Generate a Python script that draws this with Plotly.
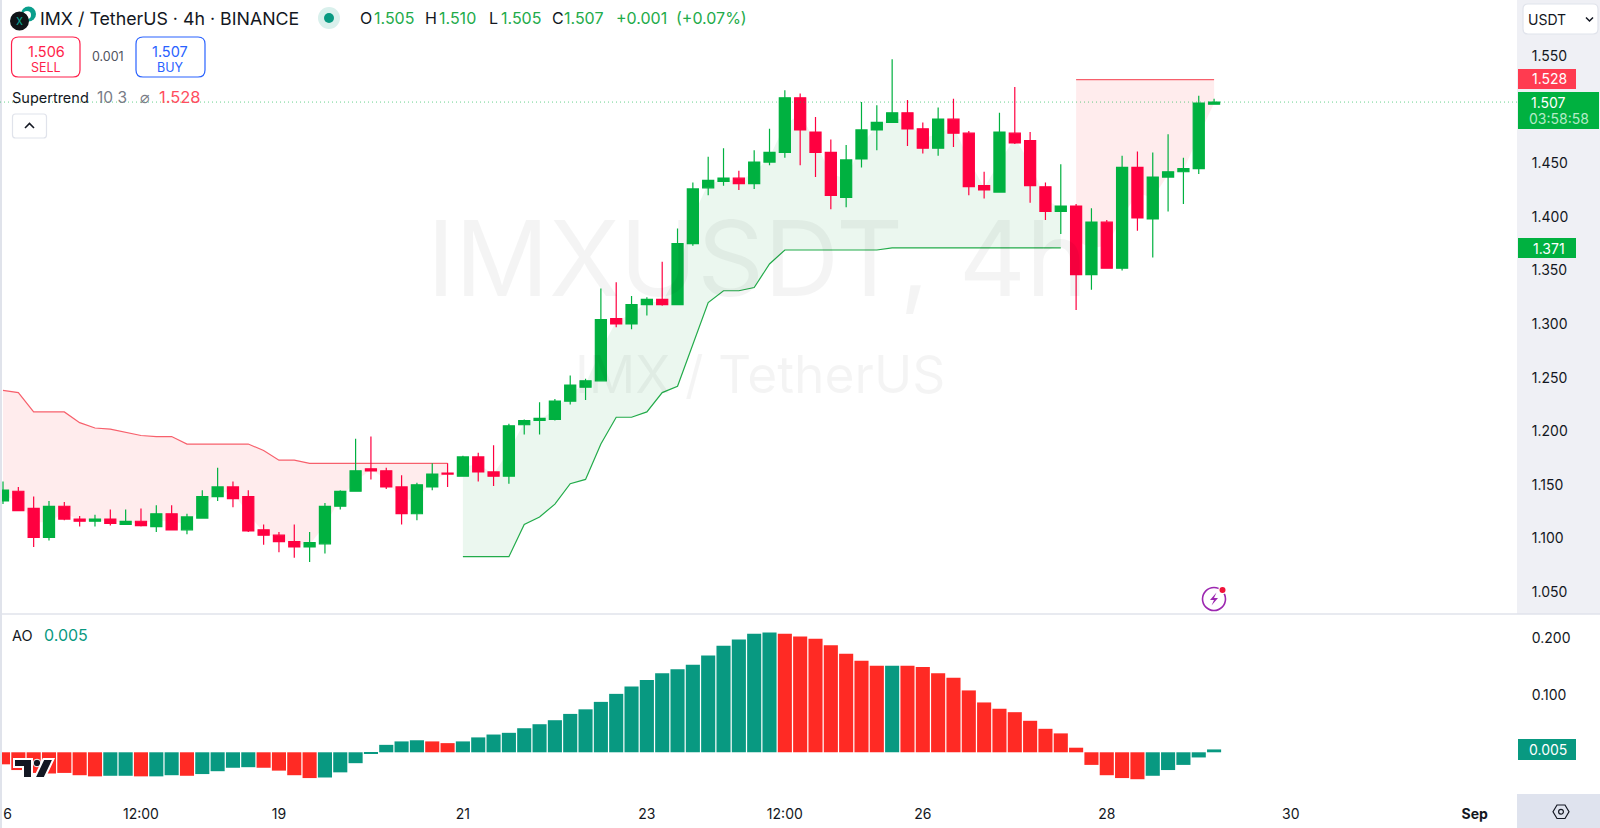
# IMX / TetherUS 4h chart with Supertrend and Awesome Oscillator

import plotly.graph_objects as go

candle_open = [1.135, 1.144, 1.128, 1.101, 1.130, 1.118, 1.116, 1.118, 1.113, 1.116,
               1.111, 1.123, 1.108, 1.119, 1.139, 1.148, 1.139, 1.108, 1.103, 1.097,
               1.092, 1.095, 1.130, 1.144, 1.165, 1.163, 1.148, 1.123, 1.148, 1.161,
               1.158, 1.176, 1.162, 1.158, 1.206, 1.210, 1.211, 1.228, 1.241, 1.247,
               1.305, 1.300, 1.318, 1.323, 1.318, 1.375, 1.427, 1.433, 1.436, 1.431,
               1.451, 1.460, 1.511, 1.479, 1.460, 1.418, 1.454, 1.481, 1.488, 1.497,
               1.482, 1.464, 1.491, 1.478, 1.429, 1.423, 1.478, 1.471, 1.428, 1.405,
               1.410, 1.346, 1.395, 1.352, 1.446, 1.398, 1.437, 1.442, 1.445, 1.505]
candle_high = [1.153, 1.148, 1.139, 1.135, 1.134, 1.121, 1.122, 1.127, 1.127, 1.128,
               1.131, 1.131, 1.123, 1.145, 1.166, 1.153, 1.145, 1.113, 1.106, 1.113,
               1.106, 1.133, 1.145, 1.193, 1.195, 1.166, 1.159, 1.152, 1.170, 1.170,
               1.177, 1.180, 1.187, 1.207, 1.211, 1.227, 1.230, 1.252, 1.249, 1.333,
               1.339, 1.326, 1.325, 1.358, 1.389, 1.432, 1.456, 1.464, 1.443, 1.462,
               1.482, 1.518, 1.515, 1.493, 1.472, 1.467, 1.507, 1.504, 1.547, 1.509,
               1.488, 1.502, 1.510, 1.480, 1.442, 1.497, 1.521, 1.479, 1.432, 1.449,
               1.412, 1.408, 1.397, 1.457, 1.461, 1.460, 1.477, 1.455, 1.513, 1.510]
candle_low = [1.132, 1.126, 1.092, 1.098, 1.117, 1.111, 1.111, 1.112, 1.113, 1.111,
              1.106, 1.108, 1.104, 1.119, 1.135, 1.129, 1.106, 1.094, 1.087, 1.082,
              1.078, 1.086, 1.127, 1.144, 1.155, 1.146, 1.113, 1.117, 1.145, 1.148,
              1.158, 1.153, 1.149, 1.151, 1.197, 1.197, 1.210, 1.225, 1.229, 1.247,
              1.297, 1.295, 1.308, 1.317, 1.318, 1.373, 1.420, 1.429, 1.425, 1.426,
              1.448, 1.455, 1.448, 1.437, 1.407, 1.409, 1.446, 1.462, 1.488, 1.466,
              1.459, 1.457, 1.465, 1.420, 1.417, 1.423, 1.468, 1.413, 1.397, 1.384,
              1.313, 1.332, 1.352, 1.350, 1.387, 1.362, 1.405, 1.412, 1.440, 1.505]
candle_close = [1.145, 1.126, 1.101, 1.130, 1.118, 1.116, 1.118, 1.114, 1.116, 1.112,
                1.123, 1.108, 1.120, 1.139, 1.148, 1.137, 1.107, 1.103, 1.097, 1.092,
                1.096, 1.130, 1.144, 1.163, 1.163, 1.148, 1.123, 1.150, 1.160, 1.160,
                1.176, 1.162, 1.158, 1.205, 1.210, 1.212, 1.228, 1.243, 1.247, 1.304,
                1.300, 1.318, 1.323, 1.318, 1.375, 1.426, 1.434, 1.436, 1.431, 1.451,
                1.460, 1.511, 1.481, 1.460, 1.420, 1.453, 1.481, 1.488, 1.497, 1.482,
                1.464, 1.491, 1.478, 1.428, 1.425, 1.479, 1.469, 1.429, 1.405, 1.410,
                1.346, 1.395, 1.352, 1.446, 1.399, 1.437, 1.442, 1.445, 1.506, 1.507]

# Supertrend stop line, split by trend direction
trend_red_start = [1.238, 1.236, 1.218, 1.218, 1.218, 1.208, 1.203, 1.202, 1.199, 1.196,
                   1.195, 1.195, 1.188, 1.188, 1.188, 1.188, 1.188, 1.182, 1.173, 1.173,
                   1.170, 1.170, 1.170, 1.170, 1.170, 1.170, 1.170, 1.170, 1.170, 1.170]
trend_green = [1.083, 1.083, 1.083, 1.083, 1.113, 1.120, 1.132, 1.151, 1.155, 1.188,
               1.213, 1.213, 1.218, 1.236, 1.242, 1.282, 1.320, 1.331, 1.331, 1.334,
               1.356, 1.369, 1.369, 1.369, 1.369, 1.369, 1.369, 1.369, 1.371, 1.371,
               1.371, 1.371, 1.371, 1.371, 1.371, 1.371, 1.371, 1.371, 1.371, 1.371]
trend_red_end = [1.528, 1.528, 1.528, 1.528, 1.528, 1.528, 1.528, 1.528, 1.528, 1.528]

ao_values = [-0.021, -0.031, -0.036, -0.037, -0.036, -0.040, -0.042, -0.041, -0.041, -0.042,
             -0.042, -0.040, -0.041, -0.038, -0.033, -0.027, -0.026, -0.027, -0.032, -0.040,
             -0.045, -0.044, -0.035, -0.019, -0.002, 0.013, 0.019, 0.021, 0.019, 0.016,
             0.019, 0.026, 0.031, 0.034, 0.042, 0.049, 0.056, 0.067, 0.075, 0.088,
             0.102, 0.115, 0.126, 0.138, 0.145, 0.153, 0.169, 0.186, 0.197, 0.207,
             0.209, 0.207, 0.202, 0.198, 0.187, 0.172, 0.160, 0.151, 0.151, 0.151,
             0.149, 0.138, 0.130, 0.108, 0.087, 0.076, 0.070, 0.055, 0.041, 0.033,
             0.008, -0.022, -0.040, -0.045, -0.047, -0.041, -0.031, -0.022, -0.009, 0.005]
ao_direction = list("DDDDDDDUUDUUDUUUUDDDDUUUUUUUDDUUUUUUUUUUUUUUUUUUUUUDDDDDDDUDDDDDDDDDDDDDDDDUUUUU")

time_tick_vals = [0.3, 9, 18, 30, 42, 51, 60, 72, 84, 96]
time_tick_labels = ["6", "12:00", "19", "21", "23", "12:00", "26", "28", "30", "<b>Sep</b>"]
# 1.500 and 0.000 sit behind the current value labels in the original, so they are left out
price_ticks = [1.05, 1.10, 1.15, 1.20, 1.25, 1.30, 1.35, 1.40, 1.45, 1.55]
ao_ticks = [0.1, 0.2]

FONT = "Inter"
W, H = 1600, 828
GREEN = "#00B140"
RED = "#FF0040"
TEAL = "#089981"
AO_RED = "#FF2A24"
DARK = "#131722"
GREY = "#787B86"
BORDER = "#E0E3EB"
TEXT_GREEN = "#22AB4A"

candle_x = list(range(len(candle_open)))
body_mid = [(o + c) / 2 for o, c in zip(candle_open, candle_close)]


def fx(x):
    return x / W


def fy(y):
    return 1 - y / H


def rect(x0, y0, x1, y1, fill, line=None, layer="above"):
    return dict(type="rect", xref="paper", yref="paper", x0=fx(x0), x1=fx(x1), y0=fy(y0), y1=fy(y1),
                fillcolor=fill, line=dict(width=0 if line is None else 1.2, color=line or fill), layer=layer)


def circle(cx, cy, r, fill="rgba(0,0,0,0)", line=None, width=1.5):
    return dict(type="circle", xref="paper", yref="paper", x0=fx(cx - r), x1=fx(cx + r), y0=fy(cy - r), y1=fy(cy + r),
                fillcolor=fill, line=dict(width=0 if line is None else width, color=line or fill), layer="above")


def path(points, fill="rgba(0,0,0,0)", line=None, width=1.5, close=True):
    d = "M" + " L".join(f"{fx(x):.5f},{fy(y):.5f}" for x, y in points) + (" Z" if close else "")
    return dict(type="path", xref="paper", yref="paper", path=d, fillcolor=fill,
                line=dict(width=0 if line is None else width, color=line or fill), layer="above")


def round_rect(x0, y0, x1, y1, r, fill, line):
    d = (f"M{fx(x0 + r):.5f},{fy(y0):.5f} L{fx(x1 - r):.5f},{fy(y0):.5f} "
         f"Q{fx(x1):.5f},{fy(y0):.5f} {fx(x1):.5f},{fy(y0 + r):.5f} L{fx(x1):.5f},{fy(y1 - r):.5f} "
         f"Q{fx(x1):.5f},{fy(y1):.5f} {fx(x1 - r):.5f},{fy(y1):.5f} L{fx(x0 + r):.5f},{fy(y1):.5f} "
         f"Q{fx(x0):.5f},{fy(y1):.5f} {fx(x0):.5f},{fy(y1 - r):.5f} L{fx(x0):.5f},{fy(y0 + r):.5f} "
         f"Q{fx(x0):.5f},{fy(y0):.5f} {fx(x0 + r):.5f},{fy(y0):.5f} Z")
    return dict(type="path", xref="paper", yref="paper", path=d, fillcolor=fill,
                line=dict(width=1.2, color=line), layer="above")


def label(text, x, y, color=DARK, size=14, anchor="left"):
    return dict(text=text, xref="paper", yref="paper", x=fx(x), y=fy(y), xanchor=anchor, yanchor="middle",
                showarrow=False, font=dict(family=FONT, size=size, color=color))


fig = go.Figure()


def add_trend(start, values, color, fill):
    xs = candle_x[start:start + len(values)]
    fig.add_trace(go.Scatter(x=xs, y=body_mid[start:start + len(values)], mode="lines",
                             line=dict(width=0), xaxis="x", yaxis="y"))
    fig.add_trace(go.Scatter(x=xs, y=values, mode="lines", fill="tonexty", fillcolor=fill,
                             line=dict(width=1.2, color=color), xaxis="x", yaxis="y"))


add_trend(0, trend_red_start, "#F7606C", "rgba(255,70,80,0.10)")
add_trend(30, trend_green, "#22AB4A", "rgba(34,171,74,0.09)")
add_trend(70, trend_red_end, "#F7606C", "rgba(255,70,80,0.10)")

fig.add_trace(go.Candlestick(
    x=candle_x, open=candle_open, high=candle_high, low=candle_low, close=candle_close,
    increasing=dict(line=dict(color=GREEN, width=1.2), fillcolor=GREEN),
    decreasing=dict(line=dict(color=RED, width=1.2), fillcolor=RED),
    xaxis="x3", yaxis="y3"))

fig.add_trace(go.Bar(
    x=candle_x, y=ao_values, width=0.92,
    marker=dict(color=[TEAL if d == "U" else AO_RED for d in ao_direction], line=dict(width=0)),
    xaxis="x2", yaxis="y2"))

x_range = [-0.196, 98.76]
x_domain = [0, 1517 / W]
price_range = [1.0295, 1.6022]
tick_font = dict(family=FONT, size=14, color=DARK)

shapes = [
    # axis panels
    rect(1517, 0, 1600, 614, "#EFF0F5", layer="below"),
    rect(1517, 794, 1600, 828, "#DFE3EE", layer="below"),
    rect(0, 0, 2, 828, BORDER),
    rect(0, 613.2, 1600, 614.8, BORDER),
    # last price line
    dict(type="line", xref="paper", yref="y", x0=0, x1=1517 / W, y0=candle_close[-1], y1=candle_close[-1],
         line=dict(color="rgba(0,177,64,0.6)", width=1, dash="1px,3px"), layer="above"),
    # price labels
    round_rect(1523, 4, 1598, 34, 5, "#FFFFFF", BORDER),
    rect(1518, 69, 1576, 89, "#FF3B50"),
    rect(1518, 92, 1599, 129, GREEN),
    rect(1518, 238, 1576, 258, GREEN),
    rect(1518, 739, 1576, 760, TEAL),
    path([(1586, 17.5), (1589.5, 21), (1593, 17.5)], line=DARK, width=1.5, close=False),
    # header logo
    circle(28.5, 14, 7.5, fill="#0A9E8C"),
    circle(27, 15, 4, fill="#FFFFFF"),
    circle(19.5, 21, 9.5, fill="#101418"),
    # status dot
    circle(329, 18, 11, fill="#D9F0EC"),
    circle(329, 18, 5, fill=TEAL),
    # sell and buy boxes
    round_rect(11.5, 37, 80, 77, 7, "#FFFFFF", "#FF1F4B"),
    round_rect(136, 37, 205, 77, 7, "#FFFFFF", "#2962FF"),
    # collapse button
    round_rect(12.5, 114, 46.5, 138, 3, "#FFFFFF", BORDER),
    path([(25, 128), (29.5, 123.5), (34, 128)], line=DARK, width=1.6, close=False),
    # lightning icon
    circle(1214, 599, 11.5, line="#9C27B0", width=1.6),
    path([(1216.5, 592.5), (1210, 600), (1214, 600), (1211.5, 605.5), (1218, 598), (1214, 598)], fill="#9C27B0"),
    circle(1222.5, 590, 4.2, fill="#FFFFFF"),
    circle(1222.5, 590, 3, fill="#F0133A"),
    # settings hexagon
    path([(1553, 811.7), (1557, 805), (1565, 805), (1569, 811.7), (1565, 818.5), (1557, 818.5)], line=DARK, width=1.2),
    circle(1561, 811.7, 2.4, line=DARK, width=1.2),
    # tradingview mark
    path([(14, 759), (32, 759), (32, 778), (23, 778), (23, 767), (14, 767)], fill=DARK, line="#FFFFFF", width=2),
    circle(37, 763, 3.8, fill=DARK, line="#FFFFFF", width=1),
    path([(43.5, 759), (53.5, 759), (44.5, 778), (34.5, 778)], fill=DARK, line="#FFFFFF", width=2),
]

annotations = [
    label("IMXUSDT, 4h", 757, 258, "rgba(0,0,0,0.045)", 104, "center"),
    label("IMX / TetherUS", 760, 374, "rgba(0,0,0,0.045)", 51.5, "center"),
    label("IMX / TetherUS · 4h · BINANCE", 37.5, 18.5, DARK, 17.8),
    label("x", 19.5, 20, "#0A9E8C", 13, "center"),
    label("1.506", 46, 51, "#FF1F4B", 14.5, "center"),
    label("SELL", 46, 67, "#FF1F4B", 12.5, "center"),
    label("0.001", 107.5, 57, "#50535E", 12.5, "center"),
    label("1.507", 170, 51, "#2962FF", 14.5, "center"),
    label("BUY", 170, 67, "#2962FF", 12.5, "center"),
    label("Supertrend", 10, 97.5, DARK, 14.5),
    label("10 3", 95, 97.5, GREY, 15.5),
    label("⌀", 145, 97.5, GREY, 16, "center"),
    label("1.528", 157, 97.5, "#FF4D5E", 16.5),
    label("USDT", 1526, 20, DARK, 14),
    label("1.528", 1549, 79, "#FFFFFF", 14, "center"),
    label("1.507", 1548, 102, "#FFFFFF", 14, "center"),
    label("03:58:58", 1559, 118.5, "#B4EBC8", 14, "center"),
    label("1.371", 1549, 248, "#FFFFFF", 14, "center"),
    label("0.005", 1548, 749.5, "#FFFFFF", 14, "center"),
    label("AO", 10, 635, DARK, 14.5),
    label("0.005", 42, 635, TEAL, 16),
]

# O H L C legend, each piece placed on its own
legend_items = [("O", 358, DARK), ("1.505", 372, TEXT_GREEN), ("H", 423, DARK), ("1.510", 437, TEXT_GREEN),
                ("L", 487, DARK), ("1.505", 499, TEXT_GREEN), ("C", 550, DARK), ("1.507", 562, TEXT_GREEN),
                ("+0.001", 614, TEXT_GREEN), ("(+0.07%)", 673.5, TEXT_GREEN)]
for text, x, color in legend_items:
    annotations.append(label(text, x, 18.5, color, 16))

fig.update_layout(
    width=W, height=H,
    margin=dict(l=0, r=0, t=0, b=0),
    paper_bgcolor="#FFFFFF", plot_bgcolor="rgba(0,0,0,0)",
    showlegend=False, hovermode=False,
    boxgap=0.15, boxgroupgap=0.15,
    xaxis=dict(domain=x_domain, range=x_range, visible=False, anchor="y", fixedrange=True),
    xaxis3=dict(overlaying="x", range=x_range, visible=False, anchor="y3", rangeslider=dict(visible=False)),
    yaxis=dict(domain=[1 - 614 / H, 1], range=price_range, side="right", anchor="x", tickmode="array",
               tickvals=price_ticks, tickformat=".3f", showgrid=False, zeroline=False, showline=False,
               ticks="outside", ticklen=11, tickcolor="rgba(0,0,0,0)", tickfont=tick_font),
    yaxis3=dict(overlaying="y", range=price_range, visible=False, anchor="x3"),
    xaxis2=dict(domain=x_domain, range=x_range, anchor="y2", tickmode="array", tickvals=time_tick_vals,
                ticktext=time_tick_labels, showgrid=False, zeroline=False, showline=False,
                ticks="outside", ticklen=7, tickcolor="rgba(0,0,0,0)", tickfont=tick_font),
    yaxis2=dict(domain=[1 - 794 / H, 1 - 614 / H], range=[-0.0728, 0.2414], side="right", anchor="x2",
                tickmode="array", tickvals=ao_ticks, tickformat=".3f", showgrid=False, zeroline=False,
                showline=False, ticks="outside", ticklen=11, tickcolor="rgba(0,0,0,0)", tickfont=tick_font),
    shapes=shapes,
    annotations=annotations,
)

fig.write_html("out.html", config={"displayModeBar": False},
               post_script="document.body.style.margin='0';document.body.style.overflow='hidden';")
